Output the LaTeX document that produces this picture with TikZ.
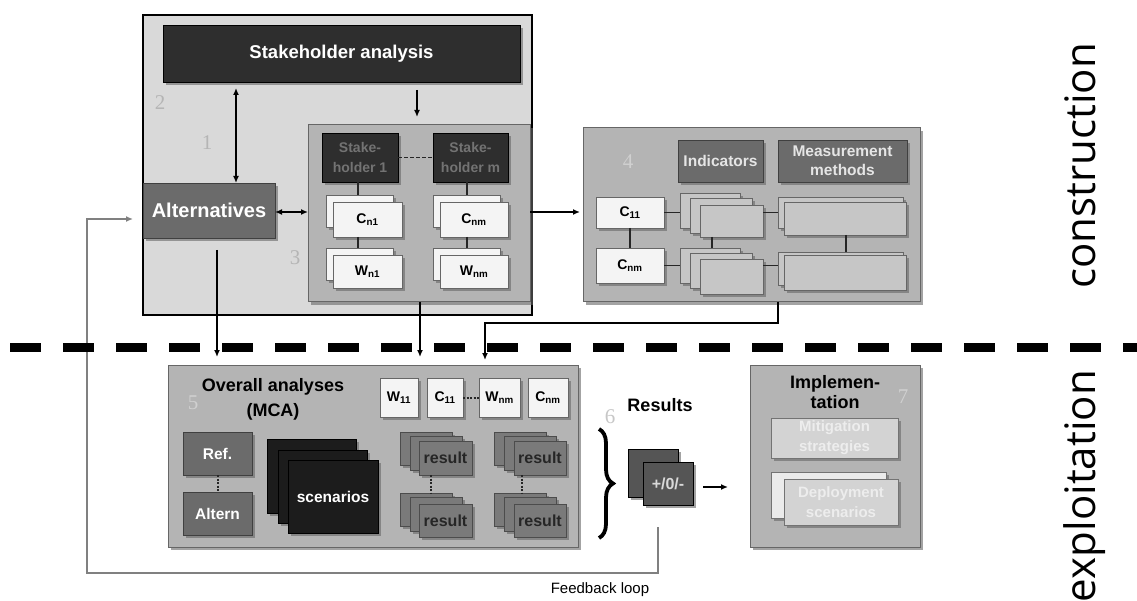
\documentclass[tikz,border=0pt]{standalone}
\usepackage{fontspec}
\setmainfont{Liberation Sans}
\newfontfamily\numfont{Liberation Serif}
\newfontfamily\sidefont{Open Sans}
\usetikzlibrary{shadows,arrows.meta,decorations.pathreplacing}
\definecolor{bigc}{HTML}{D9D9D9}
\definecolor{panelc}{HTML}{B4B4B4}
\definecolor{darkc}{HTML}{2E2E2E}
\definecolor{scenc}{HTML}{1C1C1C}
\definecolor{midc}{HTML}{6B6B6B}
\definecolor{paperc}{HTML}{F4F4F4}
\definecolor{litec}{HTML}{C6C6C6}
\definecolor{resc}{HTML}{7A7A7A}
\definecolor{pmc}{HTML}{555555}
\definecolor{mitc}{HTML}{D3D3D3}
\definecolor{numc}{HTML}{B5B5B5}
\definecolor{numd}{HTML}{D0D0D0}
\definecolor{fbc}{HTML}{808080}
\newcommand\fsz[2]{\fontsize{#1}{#2}\selectfont}
\newcommand\rbx[7]{\node[#6, minimum width={(#4)-(#2)}, minimum height={(#5)-(#3)}] (#1) at ({((#2)+(#4))/2},{((#3)+(#5))/2}) {#7};}
\begin{document}
\begin{tikzpicture}[x=1pt,y=-1pt,
  bbase/.style={inner sep=0pt, outer sep=0pt, align=center},
  shd/.style={drop shadow={shadow xshift=3pt, shadow yshift=-3pt, fill=black!60, opacity=0.6}},
  panelbox/.style={bbase, fill=panelc, draw=black!60, line width=1pt, shd},
  darkbox/.style={bbase, fill=darkc, draw=black, line width=0.8pt, shd},
  midbox/.style={bbase, fill=midc, draw=black!75, line width=0.8pt, shd, text=white, font=\bfseries\fsz{15.5}{15.5}},
  paperbox/.style={bbase, fill=paperc, draw=black!60, line width=0.8pt, shd, font=\bfseries\fsz{14}{14}},
  litebox/.style={bbase, fill=litec, draw=black!60, line width=0.8pt, shd},
  resbox/.style={bbase, fill=resc, draw=black!70, line width=0.8pt, shd, text=black!85, font=\bfseries\fsz{16}{16}},
  mitbox/.style={bbase, fill=mitc, draw=black!55, line width=0.8pt, shd, text=white!93!black, font=\bfseries\fsz{15}{20}},
  num/.style={font=\numfont\fsz{21}{21}, text=numc},
  numlt/.style={font=\numfont\fsz{21}{21}, text=numd},
  conn/.style={line width=2.6pt, black},
  arr/.style={conn, -{Latex[length=7pt,width=6pt]}},
  dblarr/.style={conn, {Latex[length=7pt,width=6pt]}-{Latex[length=7pt,width=6pt]}},
  link/.style={line width=1.8pt, black!85},
  dotlink/.style={line width=2pt, black!85, dash pattern=on 2pt off 1.5pt},
  fb/.style={line width=1.3pt, fbc}
]
\useasboundingbox (0,0) rectangle (1137,601);
\fill[white] (0,0) rectangle (1137,601);

% ---------- construction part ----------
\rbx{cons}{143}{15}{532}{315}{bbase, fill=bigc, draw=black, line width=2.6pt}{}
\rbx{sa}{163}{25}{520}{82}{darkbox, text=white, font=\bfseries\fsz{18.5}{18.5}}{Stakeholder analysis}
\rbx{alt}{143}{183}{275}{238}{midbox, font=\bfseries\fsz{20}{20}}{Alternatives}
\rbx{b3}{308}{125}{530}{302}{panelbox}{}
\rbx{sh1}{322}{133}{398}{182}{darkbox, text=black!55, font=\bfseries\fsz{14}{20}}{Stake-\\holder 1}
\rbx{shm}{433}{133}{508}{182}{darkbox, text=black!55, font=\bfseries\fsz{14}{20}}{Stake-\\holder m}
\rbx{cn1b}{326}{195}{393}{227}{paperbox}{}
\rbx{cn1}{333}{202}{402}{237}{paperbox}{C\textsubscript{n1}}
\rbx{cnmb}{433}{195}{500}{227}{paperbox}{}
\rbx{cnm3}{440}{202}{508}{237}{paperbox}{C\textsubscript{nm}}
\rbx{wn1b}{326}{248}{393}{280}{paperbox}{}
\rbx{wn1}{333}{255}{402}{288}{paperbox}{W\textsubscript{n1}}
\rbx{wnmb}{433}{248}{500}{280}{paperbox}{}
\rbx{wnm3}{440}{255}{508}{288}{paperbox}{W\textsubscript{nm}}

\node[num] (n2) at (160,103) {2};
\node[num] (n1) at (207,143) {1};
\node[num] (n3) at (295,258) {3};

% box 4
\rbx{b4}{583}{128}{920}{302}{panelbox}{}
\node[numlt] (n4) at (628,162) {4};
\rbx{ind}{678}{140}{763}{182}{midbox, text=white!90!black}{Indicators}
\rbx{mm}{778}{140}{907}{182}{midbox, text=white!90!black, font=\bfseries\fsz{15.5}{19}}{Measurement\\methods}
\rbx{c11}{596}{197}{664}{228}{paperbox}{C\textsubscript{11}}
\rbx{cnm}{596}{248}{664}{283}{paperbox}{C\textsubscript{nm}}
\rbx{i1a}{680}{193}{740}{228}{litebox}{}
\rbx{i1b}{690}{198}{752}{233}{litebox}{}
\rbx{i1c}{700}{205}{763}{237}{litebox}{}
\rbx{i2a}{680}{248}{740}{283}{litebox}{}
\rbx{i2b}{690}{253}{752}{288}{litebox}{}
\rbx{i2c}{700}{259}{763}{294}{litebox}{}
\rbx{m1a}{778}{197}{903}{228}{litebox}{}
\rbx{m1b}{784}{202}{906}{235}{litebox}{}
\rbx{m2a}{778}{252}{903}{285}{litebox}{}
\rbx{m2b}{784}{255}{906}{290}{litebox}{}

% ---------- exploitation part ----------
\rbx{b5}{168}{365}{578}{547}{panelbox}{}
\node[numlt] (n5) at (193,403) {5};
\node[font=\bfseries\fsz{18}{25}, align=center] (mca) at (273,399) {Overall analyses\\(MCA)};
\rbx{w11}{380}{378}{418}{417}{paperbox}{W\textsubscript{11}}
\rbx{c11b}{427}{378}{463}{417}{paperbox}{C\textsubscript{11}}
\rbx{wnmx}{479}{378}{520}{417}{paperbox}{W\textsubscript{nm}}
\rbx{cnmx}{528}{378}{568}{417}{paperbox}{C\textsubscript{nm}}
\rbx{ref}{183}{432}{252}{475}{midbox}{Ref.}
\rbx{altn}{183}{492}{252}{535}{midbox}{Altern}
\rbx{sca}{267}{439}{356}{513}{darkbox, fill=scenc}{}
\rbx{scb}{278}{450}{367}{523}{darkbox, fill=scenc}{}
\rbx{scc}{288}{460}{378}{533}{darkbox, fill=scenc, text=white, font=\bfseries\fsz{15.5}{15.5}}{scenarios}
\rbx{r1a}{400}{432}{452}{465}{resbox}{}
\rbx{r1b}{410}{436}{462}{470}{resbox}{}
\rbx{r1c}{419}{441}{472}{475}{resbox}{result}
\rbx{r3a}{400}{493}{452}{526}{resbox}{}
\rbx{r3b}{410}{497}{462}{531}{resbox}{}
\rbx{r3c}{419}{504}{472}{537}{resbox}{result}
\rbx{r2a}{494}{432}{546}{465}{resbox}{}
\rbx{r2b}{504}{436}{556}{470}{resbox}{}
\rbx{r2c}{514}{441}{566}{475}{resbox}{result}
\rbx{r4a}{494}{493}{546}{526}{resbox}{}
\rbx{r4b}{504}{497}{556}{531}{resbox}{}
\rbx{r4c}{514}{504}{566}{537}{resbox}{result}

\node[font=\bfseries\fsz{18}{18}] (res) at (660,405) {Results};
\node[num, text=white!78!black] (n6) at (610,417) {6};
\rbx{pma}{628}{449}{678}{497}{darkbox, fill=pmc}{}
\rbx{pmb}{643}{462}{693}{505}{darkbox, fill=pmc, text=white!85!black, font=\bfseries\fsz{16}{16}}{+/0/-}

\rbx{b7}{750}{365}{920}{547}{panelbox}{}
\node[numlt] (n7) at (903,397) {7};
\node[font=\bfseries\fsz{18}{20}, align=center] (impl) at (835,392) {Implemen-\\tation};
\rbx{mit}{771}{418}{898}{458}{mitbox}{Mitigation\\strategies}
\rbx{depa}{771}{472}{886}{518}{mitbox, fill=white!92!black}{}
\rbx{depb}{784}{479}{898}{525}{mitbox}{Deployment\\scenarios}

% ---------- coordinates ----------
\coordinate (xa) at (236,0);
\coordinate (xb) at (417,0);
\coordinate (xc) at (217,0);
\coordinate (xd) at (420,0);
\coordinate (xe) at (778,0);
\coordinate (xf) at (485,0);
\coordinate (xg) at (712,0);
\coordinate (xh) at (846,0);
\coordinate (xi) at (431,0);
\coordinate (xj) at (522,0);
\coordinate (xk) at (358,0);
\coordinate (xl) at (467,0);
\coordinate (ya) at (0,212);
\coordinate (yb) at (0,323);
\coordinate (yc) at (0,487);
\coordinate (fbs) at (658,527);
\coordinate (fbb) at (0,573);
\coordinate (fbx) at (87,0);
\coordinate (fby) at (0,219);
\coordinate (br1) at (599,429);
\coordinate (br2) at (599,538);
\coordinate (dl) at (10,347);
\coordinate (dr) at (1140,347);

% ---------- connectors ----------
\draw[dblarr, shorten <=6pt] (sa.south -| xa) -- (alt.north -| xa);
\draw[arr, shorten <=8pt, shorten >=8pt] (sa.south -| xb) -- (b3.north -| xb);
\draw[dblarr] (alt.east |- ya) -- (b3.west |- ya);
\draw[arr, shorten >=3pt] (b3.east |- ya) -- (b4.west |- ya);
\draw[arr, shorten <=12pt, shorten >=8pt] (alt.south -| xc) -- (b5.north -| xc);
\draw[arr, shorten >=8pt] (b3.south -| xd) -- (b5.north -| xd);
\draw[arr, shorten >=5pt] (b4.south -| xe) -- (xe |- yb) -- (xf |- yb) -- (b5.north -| xf);

% box 3 links
\draw[link, dash pattern=on 4pt off 2pt] (sh1.east) -- (shm.west);
\draw[link] (sh1.south -| xk) -- (cn1b.north -| xk);
\draw[link] (cn1.south -| xk) -- (wn1b.north -| xk);
\draw[link] (shm.south -| xl) -- (cnmb.north -| xl);
\draw[link] (cnm3.south -| xl) -- (wnmb.north -| xl);

% box 4 links
\draw[link] (c11.south) -- (cnm.north);
\draw[link] (c11.east) -- (i1a.west |- c11.east);
\draw[link] (cnm.east) -- (i2a.west |- cnm.east);
\draw[link] (i1c.east |- c11.east) -- (m1a.west |- c11.east);
\draw[link] (i2c.east |- cnm.east) -- (m2a.west |- cnm.east);
\draw[link] (i1c.south -| xg) -- (i2a.north -| xg);
\draw[link] (m1b.south -| xh) -- (m2a.north -| xh);

% box 5 links
\draw[dotlink] (ref.south) -- (altn.north);
\draw[dotlink] (c11b.east) -- (wnmx.west);
\draw[dotlink] (r1c.south -| xi) -- (r3a.north -| xi);
\draw[dotlink] (r2c.south -| xj) -- (r4a.north -| xj);

% results
\draw[decorate, decoration={brace, amplitude=14pt, aspect=0.5}, line width=3.8pt] (br1) -- (br2);
\draw[arr, shorten <=10pt, shorten >=22pt] (pmb.east |- yc) -- (b7.west |- yc);

% feedback loop
\draw[fb, -{Latex[length=7pt,width=6pt]}, shorten >=10pt] (fbs) -- (fbs |- fbb) -- (fbx |- fbb) -- (fbx |- fby) -- (alt.west |- fby);
\node[font=\fsz{15}{15}] (fbl) at (600,590) {Feedback loop};

% dashed divider
\draw[line width=9pt, dash pattern=on 31pt off 22pt] (dl) -- (dr);

% side labels
\node[font=\sidefont\fsz{42}{42}, rotate=90, anchor=base east, inner sep=0pt] (lcons) at (1095,43) {construction};
\node[font=\sidefont\fsz{42}{42}, rotate=90, anchor=base east, inner sep=0pt] (lexpl) at (1095,370) {exploitation};
\end{tikzpicture}
\end{document}
